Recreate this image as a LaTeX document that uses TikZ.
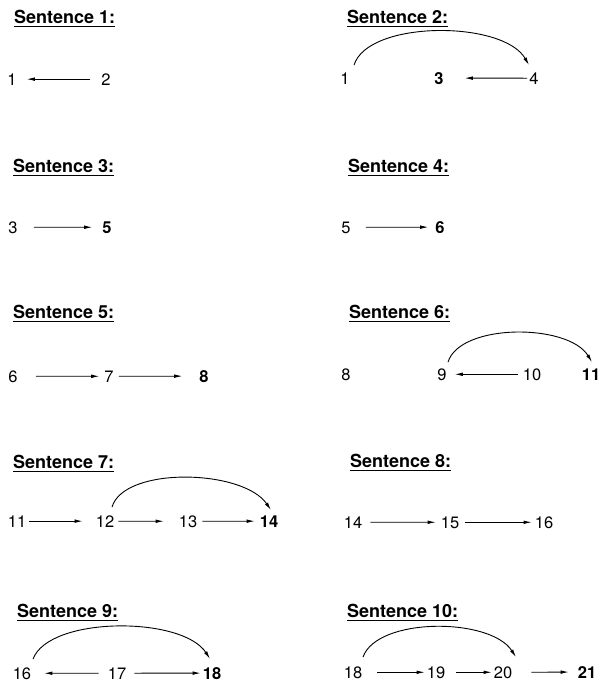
\documentclass[tikz,border=0pt]{standalone}
\usepackage{fontspec}
\setmainfont{TeX Gyre Heros}
\usetikzlibrary{arrows.meta}
\tikzset{
  ttl/.style={inner sep=0pt, anchor=base west, font=\fontsize{18}{20}\selectfont\bfseries},
  num/.style={inner sep=0pt, anchor=base, font=\fontsize{16.5}{18}\selectfont},
  bnum/.style={num, font=\fontsize{16.5}{18}\selectfont\bfseries},
  uline/.style={line width=1.2pt},
  arr/.style={line width=0.8pt, -{Latex[length=8pt,width=3.6pt]}},
  larr/.style={line width=0.8pt, {Latex[length=8pt,width=3.6pt]}-},
  arc/.style={line width=0.9pt, -{Latex[length=8pt,width=3.6pt]}}
}
\begin{document}
\begin{tikzpicture}[x=1pt,y=1pt]
\useasboundingbox (0,0) rectangle (602,-683);
% titles
\node[ttl] (t1) at (14,-23) {Sentence 1:};
\node[ttl] (t2) at (347,-23) {Sentence 2:};
\node[ttl] (t3) at (13,-172) {Sentence 3:};
\node[ttl] (t4) at (348,-172) {Sentence 4:};
\node[ttl] (t5) at (13,-318) {Sentence 5:};
\node[ttl] (t6) at (349,-318) {Sentence 6:};
\node[ttl] (t7) at (13,-468) {Sentence 7:};
\node[ttl] (t8) at (350,-467) {Sentence 8:};
\node[ttl] (t9) at (17,-617) {Sentence 9:};
\node[ttl] (t10) at (347,-617) {Sentence 10:};
\foreach \t in {t1,t2,t3,t4,t5,t6,t7,t8,t9,t10}
  \draw[uline] ([yshift=-3.5pt]\t.base west) -- ([yshift=-3.5pt]\t.base east);
% Sentence 1
\node[num] (a1) at (12,-85) {1};
\node[num] (a2) at (106,-85) {2};
\draw[larr, shorten <=10pt, shorten >=11pt] (a1.east) -- (a2.west);
% Sentence 2
\node[num] (b1) at (345,-84) {1};
\node[bnum] (b3) at (439,-84) {3};
\node[num] (b4) at (534,-84) {4};
\draw[larr, shorten <=21pt, shorten >=2pt] (b3.east) -- (b4.west);
\draw[arc] ([shift={(9,7)}]b1.north) .. controls +(14,45) and +(-26,45) .. ([shift={(-5,7)}]b4.north);
% Sentence 3
\node[num] (c3) at (13,-233) {3};
\node[bnum] (c5) at (107,-233) {5};
\draw[arr, shorten <=16pt, shorten >=10pt] (c3.east) -- (c5.west);
% Sentence 4
\node[num] (d5) at (346,-233) {5};
\node[bnum] (d6) at (440,-233) {6};
\draw[arr, shorten <=15pt, shorten >=7pt] (d5.east) -- (d6.west);
% Sentence 5
\node[num] (e6) at (13,-382) {6};
\node[num] (e7) at (109,-382) {7};
\node[bnum] (e8) at (204,-382) {8};
\draw[arr, shorten <=18pt, shorten >=5pt] (e6.east) -- (e7.west);
\draw[arr, shorten <=5pt, shorten >=17pt] (e7.east) -- (e8.west);
% Sentence 6
\node[num] (f8) at (346,-380) {8};
\node[num] (f9) at (442,-380) {9};
\node[num] (f10) at (532,-380) {10};
\node[bnum] (f11) at (591,-380) {11};
\draw[larr, shorten <=8pt, shorten >=5pt] (f9.east) -- (f10.west);
\draw[arc] ([shift={(6,6)}]f9.north) .. controls +(12,39) and +(-24,39) .. ([shift={(1,6)}]f11.north);
% Sentence 7
\node[num] (g11) at (17,-527) {11};
\node[num] (g12) at (105,-527) {12};
\node[num] (g13) at (188,-527) {13};
\node[bnum] (g14) at (269,-527) {14};
\draw[arr, shorten <=3pt, shorten >=13pt] (g11.east) -- (g12.west);
\draw[arr, shorten <=4pt, shorten >=15pt] (g12.east) -- (g13.west);
\draw[arr, shorten <=5pt, shorten >=5pt] (g13.east) -- (g14.west);
\draw[arc] ([shift={(7,8)}]g12.north) .. controls +(12,41) and +(-28,41) .. ([shift={(2,5)}]g14.north);
% Sentence 8
\node[num] (h14) at (353,-528) {14};
\node[num] (h15) at (450,-528) {15};
\node[num] (h16) at (544,-528) {16};
\draw[arr, shorten <=8pt, shorten >=5pt] (h14.east) -- (h15.west);
\draw[arr, shorten <=6pt, shorten >=3pt] (h15.east) -- (h16.west);
% Sentence 9
\node[num] (i16) at (22,-679) {16};
\node[num] (i17) at (117,-679) {17};
\node[bnum] (i18) at (212,-679) {18};
\draw[larr, shorten <=13pt, shorten >=9pt] (i16.east) -- (i17.west);
\draw[arr, shorten <=8pt, shorten >=2pt] (i17.east) -- (i18.west);
\draw[arc] ([shift={(11,8)}]i16.north) .. controls +(16,43) and +(-28,43) .. ([shift={(-2,8)}]i18.north);
% Sentence 10
\node[num] (j18) at (353,-678) {18};
\node[num] (j19) at (436,-678) {19};
\node[num] (j20) at (503,-678) {20};
\node[bnum] (j21) at (587,-678) {21};
\draw[arr, shorten <=15pt, shorten >=2pt] (j18.east) -- (j19.west);
\draw[arr, shorten <=11pt, shorten >=2pt] (j19.east) -- (j20.west);
\draw[arr, shorten <=19pt, shorten >=9pt] (j20.east) -- (j21.west);
\draw[arc] ([shift={(10,9)}]j18.north) .. controls +(14,40) and +(-26,40) .. ([shift={(13,9)}]j20.north);
\end{tikzpicture}
\end{document}
